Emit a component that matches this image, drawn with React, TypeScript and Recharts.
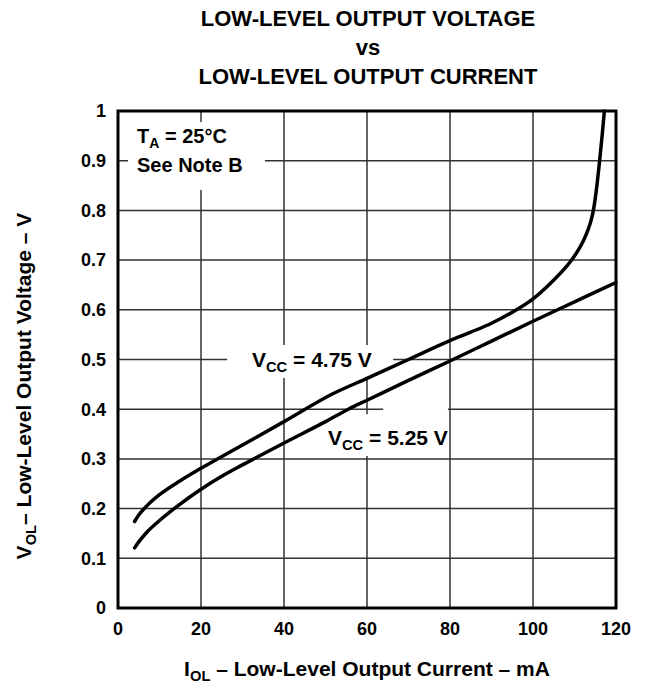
import React from 'react';
import { LineChart, Line, XAxis, YAxis, CartesianGrid, ReferenceArea } from 'recharts';

const FONT = '"Liberation Sans", Arial, Helvetica, sans-serif';

// axis ticks
const xTicks = [0, 20, 40, 60, 80, 100, 120];
const yTicks = [0, 0.1, 0.2, 0.3, 0.4, 0.5, 0.6, 0.7, 0.8, 0.9, 1];

// VCC = 4.75 V (upper curve)
const iol475 = [4, 5, 7, 10, 15, 20, 30, 40, 52, 60, 70, 80, 85, 90, 95, 100, 104.4, 109.3, 110.9, 112.2, 113.2, 114.0, 114.55, 115.4, 116.05, 116.65, 117.2];
const vol475 = [0.174, 0.187, 0.206, 0.228, 0.256, 0.281, 0.328, 0.375, 0.432, 0.462, 0.5, 0.538, 0.555, 0.573, 0.595, 0.622, 0.655, 0.7, 0.72, 0.74, 0.76, 0.78, 0.8, 0.85, 0.9, 0.95, 1.0];

// VCC = 5.25 V (lower curve)
const iol525 = [4, 5, 7, 10, 14, 20, 25, 30, 40, 50, 55.5, 60, 70, 80, 90, 100, 110, 120];
const vol525 = [0.121, 0.133, 0.153, 0.176, 0.203, 0.239, 0.265, 0.288, 0.332, 0.375, 0.4, 0.418, 0.458, 0.497, 0.537, 0.577, 0.616, 0.655];

const data475 = iol475.map((x, i) => ({ x, v: vol475[i] }));
const data525 = iol525.map((x, i) => ({ x, v: vol525[i] }));

// white boxes behind the in-plot labels (data coords)
const boxes = [
  { x1: 2.4, x2: 35.4, y1: 0.841, y2: 0.978 },
  { x1: 26.3, x2: 66.3, y1: 0.463, y2: 0.529 },
  { x1: 49.2, x2: 79.5, y1: 0.306, y2: 0.39 },
  { x1: 63.9, x2: 79.5, y1: 0.385, y2: 0.41 },
];

const tickStyle = { fontSize: 18, fontWeight: 700, fill: '#000', fontFamily: FONT };

function Sub({ children }: { children: React.ReactNode }) {
  return <span style={{ fontSize: '0.7em', position: 'relative', top: 5 }}>{children}</span>;
}

const textBase: React.CSSProperties = {
  position: 'absolute',
  fontFamily: FONT,
  fontWeight: 700,
  color: '#000',
  whiteSpace: 'nowrap',
};

export default function App() {
  return (
    <div style={{ position: 'absolute', left: 0, top: 0, width: 649, height: 683, background: '#fff', overflow: 'hidden' }}>
      <LineChart width={649} height={683} data={data475} margin={{ top: 111, right: 33, bottom: 45, left: 58 }}>
        <CartesianGrid stroke="#333" strokeWidth={1.5} />
        <XAxis
          dataKey="x"
          type="number"
          domain={[0, 120]}
          ticks={xTicks}
          interval={0}
          axisLine={false}
          tickLine={false}
          tickSize={0}
          tickMargin={14}
          height={30}
          tick={tickStyle}
        />
        <YAxis
          type="number"
          domain={[0, 1]}
          ticks={yTicks}
          interval={0}
          axisLine={false}
          tickLine={false}
          tickSize={0}
          tickMargin={12}
          width={60}
          tick={tickStyle}
        />
        {boxes.map((b, i) => (
          <ReferenceArea key={i} x1={b.x1} x2={b.x2} y1={b.y1} y2={b.y2} fill="#fff" fillOpacity={1} stroke="none" />
        ))}
        <Line data={data475} dataKey="v" type="monotone" stroke="#000" strokeWidth={3.5} strokeLinecap="round" dot={false} isAnimationActive={false} />
        <Line data={data525} dataKey="v" type="monotone" stroke="#000" strokeWidth={3.5} strokeLinecap="round" dot={false} isAnimationActive={false} />
        <ReferenceArea x1={0} x2={120} y1={0} y2={1} fill="none" stroke="#000" strokeWidth={3} />
      </LineChart>

      {/* title */}
      <div style={{ ...textBase, left: 118, top: 4, width: 500, textAlign: 'center', fontSize: 22, lineHeight: '29px' }}>
        LOW-LEVEL OUTPUT VOLTAGE
        <br />
        vs
        <br />
        LOW-LEVEL OUTPUT CURRENT
      </div>

      {/* x-axis label */}
      <div style={{ ...textBase, left: 117, top: 657, width: 500, textAlign: 'center', fontSize: 21, lineHeight: '24px' }}>
        I<Sub>OL</Sub> – Low-Level Output Current – mA
      </div>

      {/* y-axis label */}
      <div
        style={{
          ...textBase,
          left: 24 - 200,
          top: 386 - 12,
          width: 400,
          height: 24,
          textAlign: 'center',
          fontSize: 21,
          lineHeight: '24px',
          transform: 'rotate(-90deg)',
        }}
      >
        V<Sub>OL</Sub>– Low-Level Output Voltage – V
      </div>

      {/* conditions */}
      <div style={{ ...textBase, left: 137, top: 122.5, fontSize: 20, lineHeight: '27px' }}>
        T<Sub>A</Sub> = 25°C
        <br />
        See Note B
      </div>

      {/* curve labels */}
      <div style={{ ...textBase, left: 252, top: 347.7, fontSize: 21, lineHeight: '24px' }}>
        V<Sub>CC</Sub> = 4.75 V
      </div>
      <div style={{ ...textBase, left: 328, top: 425.7, fontSize: 21, lineHeight: '24px' }}>
        V<Sub>CC</Sub> = 5.25 V
      </div>
    </div>
  );
}
